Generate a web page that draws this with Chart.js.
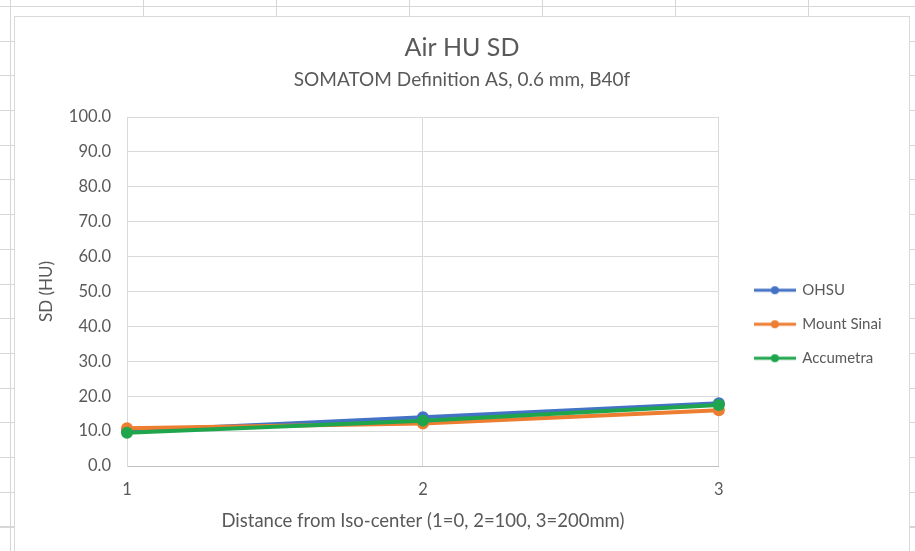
<!DOCTYPE html>
<html lang="en">
<head>
<meta charset="UTF-8">
<title>Air HU SD</title>
<script src="https://cdn.jsdelivr.net/npm/chart.js"></script>
<style>
    body {
        margin: 0;
        width: 915px;
        height: 551px;
        overflow: hidden;
        background-color: #ffffff;
        /* spreadsheet cells behind the chart */
        background-image:
            repeating-linear-gradient(to right, #d6d6d6 0 1px, transparent 1px 133px),
            repeating-linear-gradient(to bottom, #d6d6d6 0 1px, transparent 1px 34.7px);
        background-position: 10px 0, 0 6px;
        font-family: 'Lato', sans-serif;
    }
    .chart-box {
        position: absolute;
        left: 14px;
        top: 16px;
        width: 896px;
        height: 600px;
        box-sizing: border-box;
        border: 1px solid #d9d9d9;
        background: #ffffff;
    }
    canvas {
        display: block;
    }
</style>
</head>
<body>
<div class="chart-box">
    <canvas id="sdChart" width="894" height="534"></canvas>
</div>

<script>
    // data
    const distances = ['1', '2', '3'];
    const ohsu = [10.0, 14.0, 18.0];
    const mountSinai = [10.8, 12.2, 16.0];
    const accumetra = [9.5, 13.0, 17.5];

    const seriesNames = ['OHSU', 'Mount Sinai', 'Accumetra'];
    const seriesColors = ['#4472C4', '#ED7D31', '#1FA64D'];

    const textColor = '#595959';
    const gridColor = '#d9d9d9';

    // little line + dot swatch for the legend, like Excel draws it
    function swatch(color) {
        const c = document.createElement('canvas');
        c.width = 42;
        c.height = 12;
        const g = c.getContext('2d');
        g.strokeStyle = color;
        g.lineWidth = 3;
        g.beginPath();
        g.moveTo(0, 6);
        g.lineTo(42, 6);
        g.stroke();
        g.fillStyle = color;
        g.beginPath();
        g.arc(21, 6, 4, 0, Math.PI * 2);
        g.fill();
        return c;
    }
    const swatches = seriesColors.map(swatch);

    function lineSet(i, values, order) {
        return {
            label: seriesNames[i],
            data: values,
            borderColor: seriesColors[i],
            backgroundColor: seriesColors[i],
            pointBackgroundColor: seriesColors[i],
            pointBorderWidth: 0,
            pointRadius: 6,
            borderWidth: 4,
            tension: 0,
            clip: false,
            order: order
        };
    }

    const ctx = document.getElementById('sdChart').getContext('2d');
    const sdChart = new Chart(ctx, {
        type: 'line',
        data: {
            labels: distances,
            datasets: [
                lineSet(0, ohsu, 2),
                lineSet(1, mountSinai, 1),
                lineSet(2, accumetra, 0)
            ]
        },
        options: {
            responsive: false,
            animation: false,
            devicePixelRatio: 1,
            layout: {
                padding: { left: 17.5, right: 17.5, top: 0, bottom: 0 }
            },
            plugins: {
                title: {
                    display: true,
                    text: 'Air HU SD',
                    color: textColor,
                    font: { family: 'Lato', size: 25, weight: 'normal' },
                    padding: { top: 16, bottom: 0 }
                },
                subtitle: {
                    display: true,
                    text: 'SOMATOM Definition AS, 0.6 mm, B40f',
                    color: textColor,
                    font: { family: 'Lato', size: 19 },
                    padding: { top: 5.6, bottom: 25.6 }
                },
                legend: {
                    position: 'right',
                    maxWidth: 220,
                    title: {
                        display: true,
                        text: '',
                        padding: { top: 0, bottom: 66 }
                    },
                    labels: {
                        usePointStyle: true,
                        pointStyleWidth: 40,
                        padding: 19,
                        color: textColor,
                        font: { family: 'Lato', size: 15 },
                        generateLabels: function (chart) {
                            return chart.data.datasets.map(function (ds, i) {
                                return {
                                    text: ds.label,
                                    pointStyle: swatches[i],
                                    fillStyle: ds.borderColor,
                                    strokeStyle: ds.borderColor,
                                    lineWidth: 0,
                                    hidden: false,
                                    fontColor: textColor,
                                    datasetIndex: i
                                };
                            });
                        }
                    }
                },
                tooltip: { enabled: false }
            },
            scales: {
                x: {
                    type: 'category',
                    offset: false,
                    grid: { color: gridColor, drawTicks: false },
                    border: { color: '#bfbfbf' },
                    ticks: {
                        color: textColor,
                        padding: 14,
                        font: { family: 'Lato', size: 16.5 }
                    },
                    title: {
                        display: true,
                        text: 'Distance from Iso-center (1=0, 2=100, 3=200mm)',
                        color: textColor,
                        font: { family: 'Lato', size: 18.5 },
                        padding: { top: 0, bottom: 19 }
                    },
                    afterFit: function (scale) { scale.height = 85; }
                },
                y: {
                    min: 0,
                    max: 100,
                    grid: { color: gridColor, drawTicks: false },
                    border: { color: gridColor },
                    ticks: {
                        stepSize: 10,
                        color: textColor,
                        padding: 16,
                        font: { family: 'Lato', size: 16.5 },
                        callback: function (v) { return v.toFixed(1); }
                    },
                    title: {
                        display: true,
                        text: 'SD (HU)',
                        color: textColor,
                        font: { family: 'Lato', size: 17 },
                        padding: { top: 4.3, bottom: 0 }
                    },
                    afterFit: function (scale) { scale.width = 94.5; }
                },
                // empty spacer between plot and legend
                gap: {
                    type: 'linear',
                    position: 'right',
                    display: true,
                    grid: { display: false },
                    border: { display: false },
                    ticks: { display: false },
                    afterFit: function (scale) { scale.width = 17; }
                }
            }
        }
    });
</script>
</body>
</html>
